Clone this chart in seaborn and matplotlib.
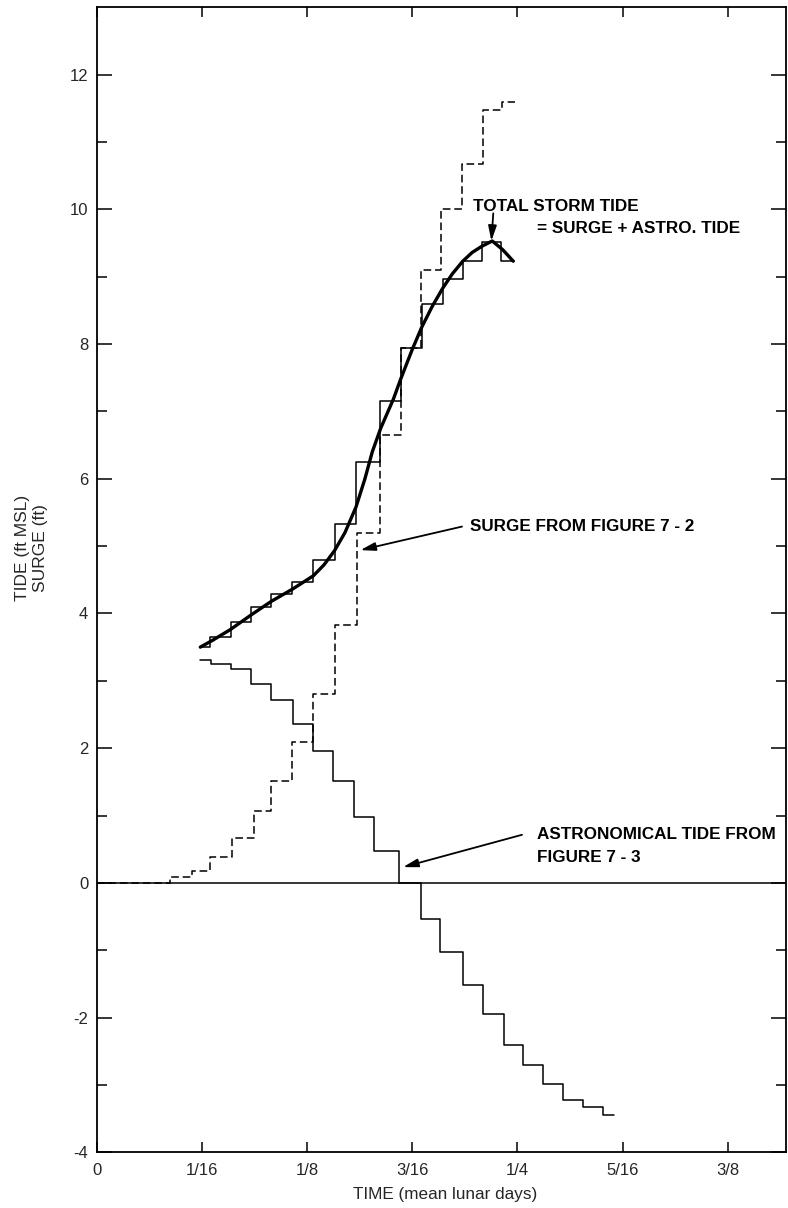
import matplotlib
matplotlib.use('Agg')
import matplotlib.pyplot as plt
import numpy as np
import pandas as pd
import seaborn as sns

# ==========================================
# DATA (time in units of 1/16 mean lunar day, heights in ft)
# ==========================================
# astronomical tide - step edges and step levels
astro_t = [0.985, 1.089, 1.280, 1.470, 1.660, 1.866, 2.056, 2.246, 2.446, 2.632,
           2.876, 3.083, 3.266, 3.478, 3.668, 3.868, 4.052, 4.245, 4.429, 4.619,
           4.809, 4.914]
astro_ft = [3.31, 3.25, 3.17, 2.95, 2.72, 2.36, 1.96, 1.52, 0.98, 0.48,
            0.00, -0.53, -1.02, -1.52, -1.94, -2.41, -2.70, -2.98, -3.22, -3.33,
            -3.44]

# surge from figure 7-2 (dashed)
surge_t = [0.0, 0.700, 0.906, 1.080, 1.286, 1.491, 1.657, 1.857, 2.056, 2.261,
           2.474, 2.696, 2.893, 3.083, 3.276, 3.473, 3.668, 3.853, 3.979]
surge_ft = [0.00, 0.08, 0.17, 0.38, 0.66, 1.07, 1.52, 2.09, 2.81, 3.83,
            5.19, 6.65, 7.94, 9.10, 10.00, 10.68, 11.48, 11.59]

# total storm tide - steps
total_t = [0.985, 1.080, 1.280, 1.470, 1.660, 1.857, 2.056, 2.261, 2.465, 2.696,
           2.893, 3.092, 3.288, 3.482, 3.663, 3.843, 3.963]
total_ft = [3.50, 3.65, 3.88, 4.10, 4.29, 4.46, 4.79, 5.33, 6.25, 7.15,
            7.94, 8.59, 8.96, 9.23, 9.52, 9.23]

# total storm tide - smooth curve drawn through the steps
curve_t = [0.985, 1.10, 1.27, 1.47, 1.66, 1.86, 2.06, 2.16, 2.26, 2.36, 2.465,
           2.55, 2.62, 2.70, 2.82, 2.89, 3.00, 3.09, 3.19, 3.29, 3.38, 3.48,
           3.57, 3.66, 3.76, 3.86, 3.96]
curve_ft = [3.50, 3.60, 3.76, 3.98, 4.18, 4.36, 4.56, 4.72, 4.93, 5.20, 5.58,
            6.00, 6.40, 6.75, 7.18, 7.48, 7.92, 8.25, 8.56, 8.83, 9.04, 9.23,
            9.36, 9.45, 9.53, 9.40, 9.23]

x_ticks = [0, 1, 2, 3, 4, 5, 6]
x_labels = ['0', '1/16', '1/8', '3/16', '1/4', '5/16', '3/8']
y_ticks = [-4, -2, 0, 2, 4, 6, 8, 10, 12]


def steps_df(edges, levels):
    # last level is repeated at the final edge so steps-post closes the stair
    return pd.DataFrame({'t': edges, 'ft': list(levels) + [levels[-1]]})


# ==========================================
# PLOT
# ==========================================
sns.set_style('ticks')
plt.rcParams['font.family'] = ['Liberation Sans', 'DejaVu Sans']

fig = plt.figure(figsize=(7.88, 12.08), dpi=100)
ax = fig.add_axes([0.1227, 0.0461, 0.8744, 0.9479])

ax.axhline(0, color='black', lw=1.1, zorder=1)

sns.lineplot(data=steps_df(astro_t, astro_ft), x='t', y='ft', ax=ax,
             drawstyle='steps-post', color='black', lw=1.1, sort=False,
             estimator=None, legend=False)
sns.lineplot(data=steps_df(surge_t, surge_ft), x='t', y='ft', ax=ax,
             drawstyle='steps-post', color='black', lw=1.1, sort=False,
             estimator=None, legend=False)
ax.lines[-1].set_dashes([5, 2.5])
sns.lineplot(data=steps_df(total_t, total_ft), x='t', y='ft', ax=ax,
             drawstyle='steps-post', color='black', lw=1.1, sort=False,
             estimator=None, legend=False)
sns.lineplot(x=curve_t, y=curve_ft, ax=ax, color='black', lw=2.4, sort=False,
             estimator=None, legend=False)

# annotations
txt = dict(fontsize=12.3, fontweight='bold', color='black')
arr = dict(arrowstyle='-|>,head_length=0.9,head_width=0.25', color='black', lw=1.3,
           shrinkA=0, shrinkB=0)

ax.text(3.58, 9.98, 'TOTAL STORM TIDE', ha='left', va='baseline', **txt)
ax.text(4.188, 9.65, '= SURGE + ASTRO. TIDE', ha='left', va='baseline', **txt)
ax.annotate('', xy=(3.752, 9.53), xytext=(3.770, 9.94), arrowprops=arr)

ax.text(3.545, 5.29, 'SURGE FROM FIGURE 7 - 2', ha='left', va='center', **txt)
ax.annotate('', xy=(2.506, 4.94), xytext=(3.473, 5.29), arrowprops=arr)

ax.text(4.186, 0.725, 'ASTRONOMICAL TIDE FROM', ha='left', va='center', **txt)
ax.text(4.186, 0.372, 'FIGURE 7 - 3', ha='left', va='center', **txt)
ax.annotate('', xy=(2.912, 0.234), xytext=(4.043, 0.714), arrowprops=arr)

# axes
ax.set_xlim(0, 6.55)
ax.set_ylim(-4, 13)
ax.set_xticks(x_ticks)
ax.set_xticklabels(x_labels)
ax.set_yticks(y_ticks)
ax.set_yticklabels([str(v) for v in y_ticks])
ax.set_yticks(np.arange(-3, 13, 2), minor=True)

ax.tick_params(axis='both', which='both', direction='in', top=True, right=True,
               color='black', labelsize=12, width=1.1)
ax.tick_params(axis='y', which='major', length=11, pad=6)
ax.tick_params(axis='y', which='minor', length=7)
ax.tick_params(axis='x', which='major', length=7, pad=8)

for s in ax.spines.values():
    s.set_linewidth(1.3)
    s.set_color('black')

ax.set_xlabel('TIME (mean lunar days)', fontsize=12.3)
ax.xaxis.set_label_coords(0.505, -0.030)
ax.set_ylabel('TIDE (ft MSL)\nSURGE (ft)', fontsize=12.5, linespacing=1.25)
ax.yaxis.set_label_coords(-0.071, 0.528)

fig.savefig('out.png', dpi=100)
plt.close(fig)
